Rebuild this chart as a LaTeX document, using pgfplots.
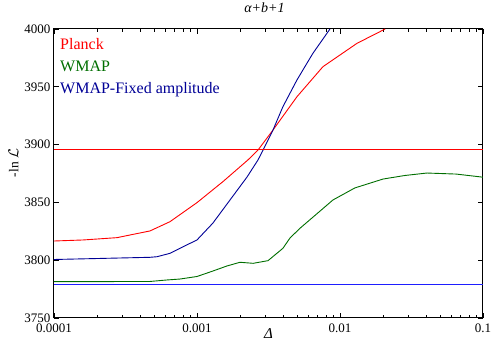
\documentclass[border=0pt]{standalone}
\usepackage{fontspec}
\setmainfont{Liberation Serif}
\usepackage{pgfplots}
\pgfplotsset{compat=1.18}

\definecolor{planck}{RGB}{255,0,0}
\definecolor{wmap}{RGB}{0,110,0}
\definecolor{wmapfix}{RGB}{0,0,150}
\definecolor{lineblue}{RGB}{30,30,255}

\begin{document}
\begin{tikzpicture}
\begin{axis}[
    name=ax,
    scale only axis,
    width=429pt, height=289pt,
    xmode=log,
    xmin=1e-4, xmax=0.1,
    ymin=3750, ymax=4000,
    xtick={1e-4,1e-3,1e-2,1e-1},
    xticklabels={0.0001,0.001,0.01,0.1},
    ytick={3750,3800,3850,3900,3950,4000},
    /pgf/number format/assume math mode=true,
    /pgf/number format/set thousands separator={},
    ticklabel style={font=\fontsize{13}{15}\selectfont},
    xticklabel style={anchor=base, yshift=-15pt},
    tick align=inside,
    major tick length=5pt,
    minor tick length=3pt,
    axis line style={line width=1pt},
    tick style={black, line width=0.8pt},
    title={\textit{α+b+1}},
    title style={font=\fontsize{14}{16}\selectfont, at={(0.5,1)}, anchor=base, yshift=10pt, xshift=-4pt},
    xlabel={\textit{Δ}},
    xlabel style={font=\fontsize{15}{17}\selectfont, at={(0.5,0)}, anchor=base, yshift=-21pt},
    ylabel={-ln $\mathcal{L}$},
    ylabel style={font=\fontsize{13.5}{15}\selectfont, at={(-0.0944,0.536)}, anchor=center},
    clip=true,
]
% curves
\addplot[draw=planck, line width=0.9pt, mark=none] coordinates {
    (1e-4,3816.6) (1.6e-4,3817.5) (2.76e-4,3819.5) (3.4e-4,3821.8)
    (4.69e-4,3825.3) (6.47e-4,3833.3) (1e-3,3849.8) (1.52e-3,3868)
    (2.27e-3,3886.7) (2.67e-3,3895.3) (3.4e-3,3912.6) (5.0e-3,3941.4)
    (7.6e-3,3967.4) (1.315e-2,3987.6) (2.07e-2,4000)
};
\addplot[draw=wmap, line width=0.9pt, mark=none] coordinates {
    (1e-4,3781.4) (4.69e-4,3781.6) (6.17e-4,3782.9) (7.6e-4,3783.7)
    (1e-3,3785.9) (1.29e-3,3790.6) (1.62e-3,3795) (2.0e-3,3798.2)
    (2.47e-3,3797.3) (3.14e-3,3799.6) (3.99e-3,3810.3) (4.47e-3,3819.2)
    (5.25e-3,3827.6) (8.93e-3,3852.1) (1.27e-2,3862.5) (2.0e-2,3870.2)
    (2.85e-2,3873.3) (4.06e-2,3875.4) (6.5e-2,3874.5) (0.1,3871.8)
};
\addplot[draw=wmapfix, line width=0.9pt, mark=none] coordinates {
    (1e-4,3800.6) (4.69e-4,3802.5) (5.25e-4,3803) (6.5e-4,3806)
    (7.8e-4,3811) (1e-3,3817.5) (1.29e-3,3832) (1.7e-3,3852)
    (2.24e-3,3872) (2.67e-3,3886.7) (2.9e-3,3895.3) (3.4e-3,3912.6)
    (3.99e-3,3932.8) (5.0e-3,3955.9) (6.47e-3,3979) (8.51e-3,4000)
};
% reference levels
\addplot[draw=planck, line width=1.1pt, mark=none] coordinates {
    (1e-4,3896) (1e-3,3896) (1e-2,3896) (0.1,3896)
};
\addplot[draw=lineblue, line width=1pt, mark=none] coordinates {
    (1e-4,3779) (1e-3,3779) (1e-2,3779) (0.1,3779)
};
% legend as coloured text, no line samples
\node[anchor=base west, inner sep=0pt, text=planck, font=\fontsize{16}{18}\selectfont]
    at (rel axis cs:0.014,0.930) {Planck};
\node[anchor=base west, inner sep=0pt, text=wmap, font=\fontsize{16}{18}\selectfont]
    at (rel axis cs:0.014,0.852) {WMAP};
\node[anchor=base west, inner sep=0pt, text=wmapfix, font=\fontsize{16}{18}\selectfont]
    at (rel axis cs:0.014,0.778) {WMAP-Fixed amplitude};
\end{axis}
\pgfresetboundingbox
\path[use as bounding box] ([shift={(-54pt,-32pt)}]ax.south west)
    rectangle ([shift={(17pt,29pt)}]ax.north east);
\end{tikzpicture}
\end{document}
